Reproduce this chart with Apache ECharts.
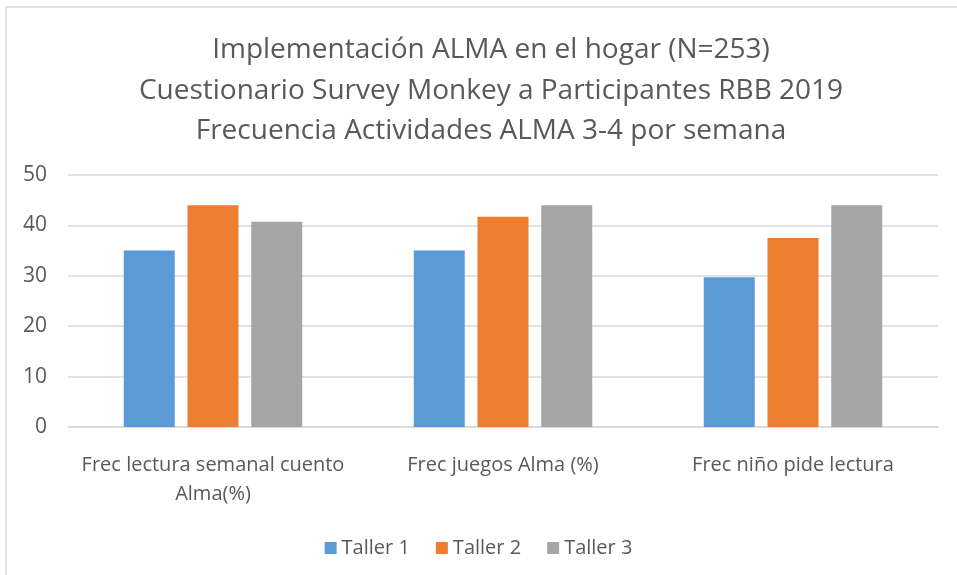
<!DOCTYPE html>
<html>
<head>
<meta charset="utf-8">
<script src="https://cdn.jsdelivr.net/npm/echarts@6/dist/echarts.min.js"></script>
<style>
  html, body { margin: 0; padding: 0; background: #fff; }
  #chart { width: 957px; height: 575px; }
</style>
</head>
<body>
<div id="chart"></div>
<script>
  // datos
  var categorias = ['Frec lectura semanal cuento\nAlma(%)', 'Frec juegos Alma (%)', 'Frec niño pide lectura'];
  var taller1 = [35, 35, 29.7];
  var taller2 = [44, 41.7, 37.5];
  var taller3 = [40.7, 44, 44];
  var yTicks = { min: 0, max: 50, interval: 10 };

  var fuente = '"Open Sans", "Liberation Sans", sans-serif';
  var gris = '#595959';

  var chart = echarts.init(document.getElementById('chart'));
  chart.setOption({
    animation: false,
    textStyle: { fontFamily: fuente },
    title: {
      text: 'Implementación ALMA en el hogar (N=253)\nCuestionario Survey Monkey a Participantes RBB 2019\nFrecuencia Actividades ALMA 3-4 por semana',
      left: 486,
      textAlign: 'center',
      top: 25,
      textStyle: { fontSize: 28, fontWeight: 'normal', color: gris, lineHeight: 40.5, fontFamily: fuente }
    },
    graphic: [{
      type: 'rect',
      shape: { x: 6, y: 7, width: 1000, height: 700 },
      style: { fill: 'none', stroke: '#d9d9d9', lineWidth: 1.5 },
      silent: true
    }],
    legend: {
      top: 533,
      left: 'center',
      itemWidth: 12,
      itemHeight: 12,
      itemGap: 26,
      icon: 'rect',
      textStyle: { fontSize: 20, color: gris, fontFamily: fuente },
      data: ['Taller 1', 'Taller 2', 'Taller 3']
    },
    grid: { left: 68, right: 19, top: 175, bottom: 148, containLabel: false },
    xAxis: {
      type: 'category',
      data: categorias,
      axisLine: { lineStyle: { color: '#d9d9d9', width: 1.5 } },
      axisTick: { show: false },
      axisLabel: { interval: 0, fontSize: 20, color: gris, margin: 24, lineHeight: 29, fontFamily: fuente }
    },
    yAxis: {
      type: 'value',
      min: yTicks.min,
      max: yTicks.max,
      interval: yTicks.interval,
      axisLine: { show: false },
      axisTick: { show: false },
      axisLabel: { fontSize: 21, color: gris, margin: 21, fontFamily: fuente },
      splitLine: { lineStyle: { color: '#d9d9d9', width: 1.5 } }
    },
    series: [
      { name: 'Taller 1', type: 'bar', data: taller1, barWidth: 51, barGap: '25%', itemStyle: { color: '#5B9BD5' } },
      { name: 'Taller 2', type: 'bar', data: taller2, barWidth: 51, itemStyle: { color: '#ED7D31' } },
      { name: 'Taller 3', type: 'bar', data: taller3, barWidth: 51, itemStyle: { color: '#A5A5A5' } }
    ]
  });
</script>
</body>
</html>
